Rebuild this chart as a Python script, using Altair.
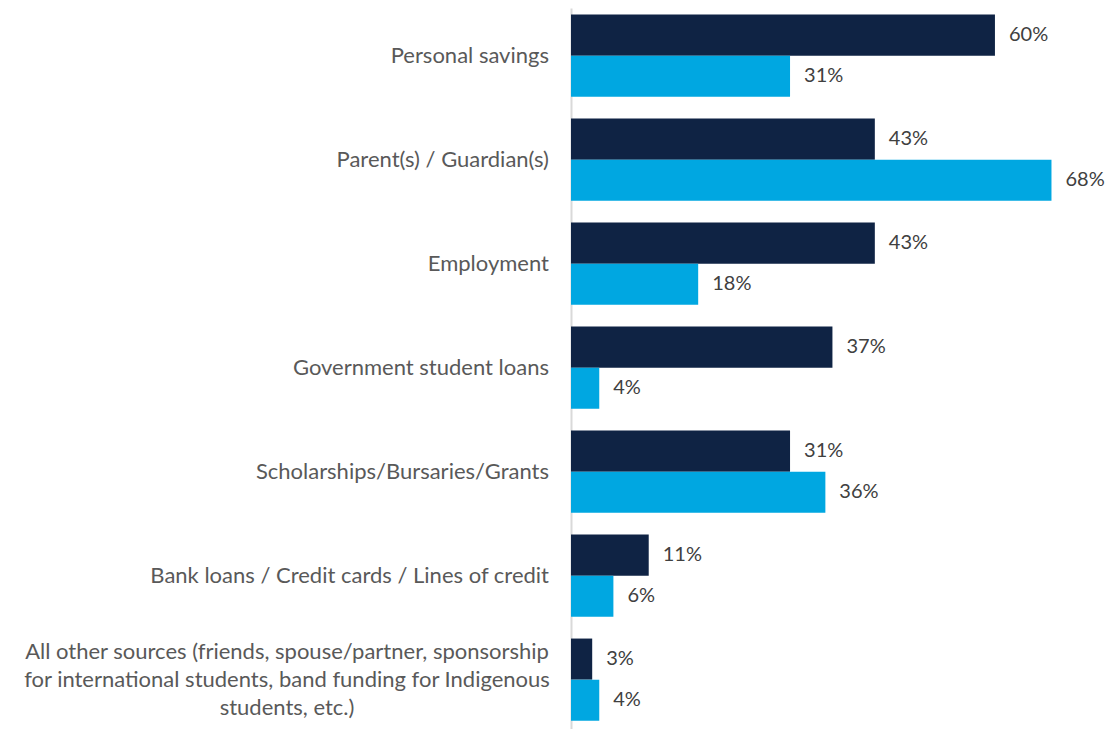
import altair as alt
import pandas as pd

categories = [
    "Personal savings",
    "Parent(s) / Guardian(s)",
    "Employment",
    "Government student loans",
    "Scholarships/Bursaries/Grants",
    "Bank loans / Credit cards / Lines of credit",
    "All other sources (friends, spouse/partner, sponsorship|for international students, band funding for Indigenous|students, etc.)",
]
series_names = ["Series A", "Series B"]
series_a = [60, 43, 43, 37, 31, 11, 3]
series_b = [31, 68, 18, 4, 36, 6, 4]
colors = ["#0F2344", "#00A7E1"]

rows = []
for c, a, b in zip(categories, series_a, series_b):
    rows.append({"cat": c, "series": series_names[0], "value": a, "label": f"{a}%"})
    rows.append({"cat": c, "series": series_names[1], "value": b, "label": f"{b}%"})
df = pd.DataFrame(rows)
single_df = pd.DataFrame({"cat": [c for c in categories if "|" not in c]})
multi_df = pd.DataFrame({"cat": [c for c in categories if "|" in c]})

y_scale = alt.Scale(domain=categories, paddingInner=0.21, paddingOuter=0.105, align=0.3)
y_enc = alt.Y(
    "cat:N",
    sort=categories,
    title=None,
    scale=y_scale,
    axis=alt.Axis(labels=False, ticks=False, domainColor="#D9D9D9", domainWidth=2),
)
yoff = alt.YOffset("series:N", sort=series_names, scale=alt.Scale(paddingInner=0, paddingOuter=0))
x_enc = alt.X("value:Q", scale=alt.Scale(domain=[0, 76], nice=False), axis=None, title=None)

bars = alt.Chart(df).mark_bar().encode(
    y=y_enc,
    yOffset=yoff,
    x=x_enc,
    color=alt.Color("series:N", sort=series_names, scale=alt.Scale(domain=series_names, range=colors), legend=None),
)
text = alt.Chart(df).mark_text(align="left", baseline="middle", dx=14, font="Lato", fontSize=20, color="#404040").encode(
    y=alt.Y("cat:N", sort=categories),
    yOffset=yoff,
    x=x_enc,
    text="label:N",
)
label_style = dict(baseline="middle", font="Lato", fontSize=22, color="#595959",
                   lineBreak="|", lineHeight=28)
cat_labels = alt.Chart(single_df).mark_text(align="right", **label_style).encode(
    y=alt.Y("cat:N", sort=categories),
    x=alt.value(-22),
    text="cat:N",
)
cat_labels_multi = alt.Chart(multi_df).mark_text(align="center", dy=-28, **label_style).encode(
    y=alt.Y("cat:N", sort=categories),
    x=alt.value(-284),
    text="cat:N",
)

chart = (
    alt.layer(bars, text, cat_labels, cat_labels_multi)
    .properties(
        width=537,
        height=728,
        autosize=alt.AutoSizeParams(type="none"),
        padding={"left": 563, "top": 0, "right": 0, "bottom": 0},
    )
    .configure_view(stroke=None)
)
chart.save("out.html", embed_options={"renderer": "svg", "actions": False})
